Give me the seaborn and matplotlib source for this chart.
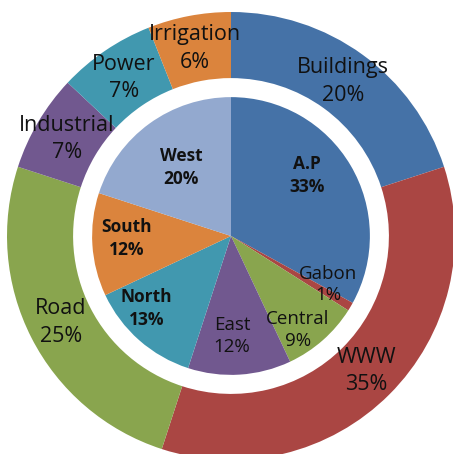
import seaborn as sns
import matplotlib.pyplot as plt
import numpy as np

# outer ring: sectors
sectors = ["Buildings", "WWW", "Road", "Industrial", "Power", "Irrigation"]
sector_pct = [20, 35, 25, 7, 7, 6]

# inner pie: regions
regions = ["A.P", "Gabon", "Central", "East", "North", "South", "West"]
region_pct = [33, 1, 9, 12, 13, 12, 20]

outer_colors = ["#4572A7", "#AA4643", "#89A54E", "#71588F", "#4198AF", "#DB843D"]
inner_colors = ["#4572A7", "#AA4643", "#89A54E", "#71588F", "#4198AF", "#DB843D", "#93A9CF"]

sns.set_theme(style="white")
plt.rcParams["font.family"] = ["Open Sans", "DejaVu Sans"]

fig = plt.figure(figsize=(4.53, 4.54), dpi=100)
ax = fig.add_axes([0, 0, 1, 1])

R = 1.0
ring_w = 0.295
r_in = 0.62

outer, _ = ax.pie(sector_pct, radius=R, colors=outer_colors, startangle=90,
                  counterclock=False, wedgeprops=dict(width=ring_w, linewidth=0))
inner, _ = ax.pie(region_pct, radius=r_in, colors=inner_colors, startangle=90,
                  counterclock=False, wedgeprops=dict(linewidth=0))

# outer labels, mid-ring
for w, name, p in zip(outer, sectors, sector_pct):
    ang = np.deg2rad((w.theta1 + w.theta2) / 2)
    r = R - ring_w / 2
    ax.text(r * np.cos(ang), r * np.sin(ang), f"{name}\n{p}%", ha="center",
            va="center", fontsize=15.5, color="#111111", linespacing=1.4)

# inner labels: (distance as fraction of inner radius, angle nudge in degrees)
inner_pos = {"A.P": (0.70, 8), "Gabon": (0.78, 4), "Central": (0.83, -6),
             "East": (0.72, -3), "North": (0.80, -8), "South": (0.75, -2),
             "West": (0.61, 0)}
heavy = ("A.P", "West", "South", "North")
for w, name, p in zip(inner, regions, region_pct):
    d, nudge = inner_pos[name]
    ang = np.deg2rad((w.theta1 + w.theta2) / 2 + nudge)
    r = r_in * d
    ax.text(r * np.cos(ang), r * np.sin(ang), f"{name}\n{p}%", ha="center",
            va="center", fontsize=12.5 if name in heavy else 13.5,
            color="#111111", linespacing=1.35 if name in heavy else 1.25,
            fontweight="bold" if name in heavy else "medium")

ax.set_xlim(-231 / 224, 222 / 224)
ax.set_ylim(-218 / 224, 236 / 224)
ax.set_aspect("equal")
ax.axis("off")

plt.savefig("out.png", dpi=100)
